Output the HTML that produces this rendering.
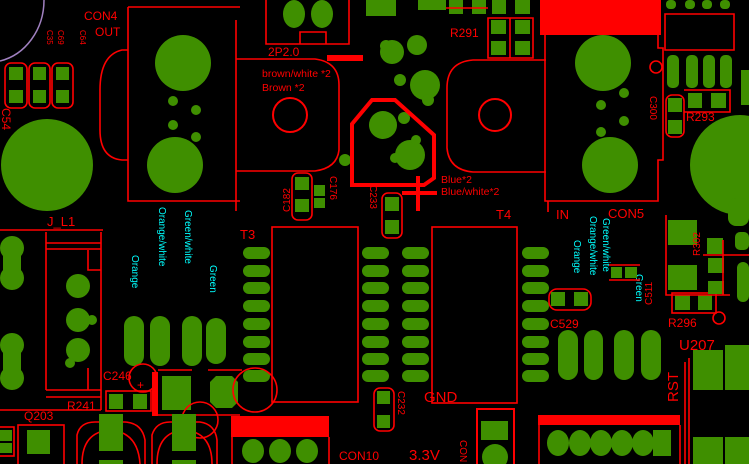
<!DOCTYPE html>
<html><head><meta charset="utf-8"><style>
html,body{margin:0;padding:0;background:#000;width:749px;height:464px;overflow:hidden}
svg{display:block}
text{font-family:"Liberation Sans",sans-serif}
.r{fill:#ff0000;font-size:12px}
.c{fill:#00ffff;font-size:10px}
.o{fill:none;stroke:#ff0000;stroke-width:1.6}
.g{fill:#3f8f00}
</style></head><body>
<svg width="749" height="464" viewBox="0 0 749 464" xmlns="http://www.w3.org/2000/svg">
<!-- purple arc -->
<path d="M44,0 C44,30 25,55 0,61" fill="none" stroke="#a080c0" stroke-width="1.5"/>
<text class="r" x="84" y="20">CON4</text><text class="r" x="95" y="36">OUT</text>
<g class="r" style="font-size:8px"><text transform="translate(47,30) rotate(90)">C35</text><text transform="translate(58,30) rotate(90)">C69</text><text transform="translate(80,30) rotate(90)">C64</text></g>
<!-- caps top-left -->
<rect class="o" x="5" y="63" width="22" height="45" rx="6"/><rect class="o" x="29" y="63" width="21" height="45" rx="6"/><rect class="o" x="52" y="63" width="21" height="45" rx="6"/>
<g class="g"><rect x="9" y="67" width="14" height="13"/><rect x="33" y="67" width="13" height="13"/><rect x="56" y="67" width="13" height="13"/>
<rect x="9" y="90" width="14" height="13"/><rect x="33" y="90" width="13" height="13"/><rect x="56" y="90" width="13" height="13"/></g>
<text class="r" transform="translate(2,108) rotate(90)">C54</text>
<circle class="g" cx="47" cy="165" r="46"/>
<!-- CON4 -->
<path class="o" d="M128,48 V201 H240 M128,7 H240 M128,7 V48 M128,50 H122 Q100,55 100,90 V130 Q100,158 122,160 H128"/>
<line class="o" x1="236" y1="20" x2="236" y2="211"/>
<g class="g"><circle cx="183" cy="63" r="28"/><circle cx="175" cy="165" r="28"/><circle cx="173" cy="101" r="5"/><circle cx="196" cy="110" r="5"/><circle cx="173" cy="125" r="5"/><circle cx="196" cy="137" r="5"/></g>
<!-- 2P2.0 -->
<path class="o" d="M266,0 V44 H349 V0 M300,44 V32 H326 V44"/>
<g class="g"><ellipse cx="294" cy="14" rx="11" ry="14"/><ellipse cx="322" cy="14" rx="11" ry="14"/></g>
<text class="r" x="268" y="56">2P2.0</text>
<rect x="327" y="55" width="36" height="6" fill="#f00"/>
<path class="o" d="M236,59 H315 Q339,62 339,85 V150 Q337,168 315,171 H236"/>
<circle cx="290" cy="115" r="17" fill="none" stroke="#f00" stroke-width="2"/>
<text class="r" style="font-size:10.5px" x="262" y="77">brown/white *2</text><text class="r" style="font-size:10.5px" x="262" y="91">Brown *2</text>
<!-- C182 C176 -->
<rect class="o" x="292" y="173" width="20" height="47" rx="6"/>
<g class="g"><rect x="295" y="177" width="14" height="13"/><rect x="295" y="199" width="14" height="13"/><rect x="314" y="185" width="11" height="11"/><rect x="314" y="198" width="11" height="10"/></g>
<g class="r" style="font-size:10px"><text transform="translate(290,212) rotate(-90)">C182</text><text transform="translate(330,176) rotate(90)">C176</text><text transform="translate(370,185) rotate(90)">C233</text></g>
<text class="r" style="font-size:13px" x="47" y="226">J_L1</text><line class="o" x1="0" y1="230" x2="103" y2="230"/>
<!-- top right -->
<g class="g"><rect x="418" y="0" width="28" height="10"/><rect x="366" y="0" width="30" height="16"/>
<rect x="449" y="0" width="14" height="14"/><rect x="472" y="0" width="14" height="14"/><rect x="492" y="0" width="14" height="14"/><rect x="515" y="0" width="15" height="14"/>
<rect x="491" y="20" width="15" height="14"/><rect x="515" y="20" width="15" height="14"/><rect x="491" y="41" width="15" height="14"/><rect x="515" y="41" width="15" height="14"/></g>
<path class="o" d="M488,18 H533 V58 H488 Z M510,18 V58 M446,8 H488"/>
<text class="r" x="450" y="37">R291</text>
<rect x="540" y="0" width="121" height="35" fill="#f00"/>
<g class="g"><circle cx="392" cy="52" r="12"/><circle cx="386" cy="46" r="6"/><circle cx="417" cy="45" r="10"/><circle cx="425" cy="85" r="15"/><circle cx="400" cy="80" r="6"/><circle cx="428" cy="100" r="6"/>
<circle cx="383" cy="125" r="14"/><circle cx="404" cy="118" r="6"/><circle cx="410" cy="155" r="15"/><circle cx="395" cy="158" r="5"/><circle cx="416" cy="140" r="5"/><circle cx="345" cy="160" r="6"/></g>
<polygon points="372,100 395,100 434,135 434,178 424,185 352,185 352,124" fill="none" stroke="#f00" stroke-width="4"/>
<path d="M402,193 H437 M418,176 V211" stroke="#f00" stroke-width="4"/>
<text class="r" style="font-size:10.5px" x="441" y="183">Blue*2</text><text class="r" style="font-size:10.5px" x="441" y="195">Blue/white*2</text>
<path class="o" d="M546,60 H473 Q447,62 447,88 V148 Q449,170 473,172 H546"/>
<circle cx="495" cy="115" r="16" fill="none" stroke="#f00" stroke-width="2"/>
<path class="o" d="M545,35 V201 H658 V160 H663 V48 H658 V35 M548,201 V212"/>
<g class="g"><circle cx="603" cy="63" r="28"/><circle cx="610" cy="165" r="28"/><circle cx="624" cy="93" r="5"/><circle cx="601" cy="105" r="5"/><circle cx="624" cy="121" r="5"/><circle cx="601" cy="132" r="5"/></g>
<circle cx="656" cy="67" r="6" fill="none" stroke="#f00" stroke-width="1.6"/>
<text class="r" style="font-size:10px" transform="translate(650,96) rotate(90)">C300</text>
<path class="o" d="M665,14 H734 V50 H665 Z"/>
<g class="g"><rect x="666" y="0" width="10" height="9" rx="4"/><rect x="685" y="0" width="10" height="9" rx="4"/><rect x="702" y="0" width="10" height="9" rx="4"/><rect x="720" y="0" width="10" height="9" rx="4"/>
<rect x="667" y="55" width="12" height="33" rx="5"/><rect x="686" y="55" width="12" height="33" rx="5"/><rect x="703" y="55" width="12" height="33" rx="5"/><rect x="720" y="55" width="12" height="33" rx="5"/>
<rect x="688" y="93" width="14" height="15"/><rect x="711" y="93" width="15" height="15"/><rect x="668" y="98" width="14" height="14"/><rect x="668" y="120" width="14" height="14"/>
<rect x="741" y="70" width="8" height="35"/><circle cx="740" cy="165" r="50"/></g>
<rect class="o" x="666" y="95" width="18" height="42" rx="6"/><path class="o" d="M684,90 H730 V112 H684"/>
<text class="r" x="686" y="121">R293</text>
<text class="r" style="font-size:13px" x="496" y="219">T4</text><text class="r" style="font-size:13px" x="556" y="219">IN</text><text class="r" style="font-size:13px" x="608" y="218">CON5</text>
<text class="r" style="font-size:13px" x="240" y="239">T3</text>
<!-- J_L1 connector -->
<path class="o" d="M46,232 V390 M101,232 V410 M46,243 H101 M46,249 H101 M88,250 V270 H101 M88,368 V390 H101 M46,390 H101 M46,397 H101"/>
<line class="o" x1="0" y1="410" x2="101" y2="410"/>
<g class="g"><circle cx="12" cy="248" r="12"/><circle cx="12" cy="278" r="12"/><rect x="3" y="248" width="18" height="30"/><circle cx="12" cy="345" r="12"/><circle cx="12" cy="378" r="12"/><rect x="3" y="345" width="18" height="33"/>
<circle cx="78" cy="286" r="12"/><circle cx="78" cy="320" r="12"/><circle cx="92" cy="320" r="5"/><circle cx="78" cy="350" r="12"/><circle cx="70" cy="363" r="5"/></g>
<g class="c"><text transform="translate(132,255) rotate(90)">Orange</text><text transform="translate(159,207) rotate(90)">Orange/white</text><text transform="translate(185,210) rotate(90)">Green/white</text><text transform="translate(210,265) rotate(90)">Green</text>
<text transform="translate(574,240) rotate(90)">Orange</text><text transform="translate(590,216) rotate(90)">Orange/white</text><text transform="translate(603,218) rotate(90)">Green/white</text><text transform="translate(636,274) rotate(90)">Green</text></g>
<g class="g"><rect x="124" y="316" width="20" height="50" rx="10"/><rect x="150" y="316" width="20" height="50" rx="10"/><rect x="182" y="316" width="20" height="50" rx="10"/><rect x="206" y="318" width="20" height="46" rx="10"/>
<rect x="558" y="330" width="20" height="50" rx="10"/><rect x="584" y="330" width="19" height="50" rx="10"/><rect x="614" y="330" width="20" height="50" rx="10"/><rect x="641" y="330" width="20" height="50" rx="10"/></g>
<!-- T3/T4 -->
<rect class="o" x="272" y="227" width="86" height="175"/><rect class="o" x="432" y="227" width="85" height="176"/>
<g class="g">
<rect x="243" y="247" width="27" height="12" rx="6"/><rect x="243" y="265" width="27" height="12" rx="6"/><rect x="243" y="282" width="27" height="12" rx="6"/><rect x="243" y="300" width="27" height="12" rx="6"/><rect x="243" y="318" width="27" height="12" rx="6"/><rect x="243" y="336" width="27" height="12" rx="6"/><rect x="243" y="353" width="27" height="12" rx="6"/><rect x="243" y="370" width="27" height="12" rx="6"/>
<rect x="362" y="247" width="27" height="12" rx="6"/><rect x="362" y="265" width="27" height="12" rx="6"/><rect x="362" y="282" width="27" height="12" rx="6"/><rect x="362" y="300" width="27" height="12" rx="6"/><rect x="362" y="318" width="27" height="12" rx="6"/><rect x="362" y="336" width="27" height="12" rx="6"/><rect x="362" y="353" width="27" height="12" rx="6"/><rect x="362" y="370" width="27" height="12" rx="6"/>
<rect x="402" y="247" width="27" height="12" rx="6"/><rect x="402" y="265" width="27" height="12" rx="6"/><rect x="402" y="282" width="27" height="12" rx="6"/><rect x="402" y="300" width="27" height="12" rx="6"/><rect x="402" y="318" width="27" height="12" rx="6"/><rect x="402" y="336" width="27" height="12" rx="6"/><rect x="402" y="353" width="27" height="12" rx="6"/><rect x="402" y="370" width="27" height="12" rx="6"/>
<rect x="522" y="247" width="27" height="12" rx="6"/><rect x="522" y="265" width="27" height="12" rx="6"/><rect x="522" y="282" width="27" height="12" rx="6"/><rect x="522" y="300" width="27" height="12" rx="6"/><rect x="522" y="318" width="27" height="12" rx="6"/><rect x="522" y="336" width="27" height="12" rx="6"/><rect x="522" y="353" width="27" height="12" rx="6"/><rect x="522" y="370" width="27" height="12" rx="6"/>
<rect x="385" y="197" width="14" height="14"/><rect x="385" y="220" width="14" height="14"/>
</g>
<rect class="o" x="382" y="193" width="20" height="45" rx="6"/>
<!-- C246 area -->
<text class="r" x="103" y="380">C246</text>
<circle cx="143" cy="378" r="14" fill="none" stroke="#f00" stroke-width="1.6"/><text class="r" x="137" y="389">+</text>
<path d="M152,372 H158 V416 H152 Z" fill="#f00"/><path class="o" d="M158,370 H192 M208,370 H242 M158,415 H240"/>
<rect class="g" x="162" y="376" width="29" height="34"/>
<polygon class="g" points="216,376 232,376 238,382 238,402 232,408 216,408 210,402 210,382"/>
<circle cx="255" cy="390" r="22" fill="none" stroke="#f00" stroke-width="1.6"/>
<circle cx="200" cy="420" r="18" fill="none" stroke="#f00" stroke-width="1.6"/>
<rect class="o" x="106" y="391" width="45" height="20"/>
<rect class="g" x="109" y="394" width="14" height="15"/><rect class="g" x="133" y="394" width="14" height="15"/>
<text class="r" x="67" y="410">R241</text>
<text class="r" x="24" y="420">Q203</text>
<rect class="o" x="18" y="425" width="46" height="45"/><rect class="g" x="27" y="430" width="23" height="24"/>
<rect class="g" x="0" y="430" width="12" height="11"/><rect class="g" x="0" y="443" width="12" height="10"/><rect class="o" x="-2" y="427" width="16" height="29"/>
<path class="o" d="M77,464 V435 Q80,422 95,422 H125 Q142,423 145,440 V464 M152,464 V435 Q156,422 170,422 H200 Q215,424 217,440 V464"/>
<path class="o" d="M82,464 Q82,432 110,430 Q138,432 140,464 M157,464 Q157,432 184,430 Q212,432 212,464"/>
<g class="g"><rect x="99" y="414" width="24" height="37"/><rect x="172" y="414" width="24" height="37"/><rect x="99" y="460" width="24" height="4"/><rect x="172" y="460" width="24" height="4"/></g>
<rect x="231" y="416" width="98" height="21" fill="#f00"/><path class="o" d="M232,437 V464 M329,437 V464"/>
<g class="g"><ellipse cx="253" cy="451" rx="11" ry="12"/><ellipse cx="280" cy="451" rx="11" ry="12"/><ellipse cx="307" cy="451" rx="11" ry="12"/></g>
<text class="r" x="339" y="460">CON10</text>
<!-- bottom right -->
<rect class="o" x="374" y="388" width="20" height="43" rx="6"/>
<rect class="g" x="377" y="391" width="13" height="13"/><rect class="g" x="377" y="415" width="13" height="13"/>
<text class="r" style="font-size:10px" transform="translate(398,391) rotate(90)">C232</text>
<text class="r" style="font-size:15px" x="424" y="402">GND</text><text class="r" style="font-size:15px" x="409" y="460">3.3V</text>
<text class="r" style="font-size:10px" transform="translate(460,440) rotate(90)">CON</text>
<rect x="477" y="409" width="37" height="60" fill="none" stroke="#f00" stroke-width="2"/>
<rect class="g" x="481" y="421" width="27" height="19"/><circle class="g" cx="495" cy="457" r="13"/>
<rect x="538" y="415" width="142" height="10" fill="#f00"/><path class="o" d="M539,425 V464 M680,425 V464"/>
<g class="g"><ellipse cx="558" cy="443" rx="11" ry="13"/><ellipse cx="580" cy="443" rx="11" ry="13"/><ellipse cx="601" cy="443" rx="11" ry="13"/><ellipse cx="622" cy="443" rx="11" ry="13"/><ellipse cx="643" cy="443" rx="11" ry="13"/><rect x="653" y="430" width="18" height="26"/></g>
<rect class="o" x="549" y="289" width="42" height="21" rx="8"/>
<rect class="g" x="551" y="292" width="14" height="14"/><rect class="g" x="574" y="292" width="14" height="14"/>
<text class="r" x="550" y="328">C529</text>
<path class="o" d="M609,265 H640 M609,280 H640"/><rect class="g" x="611" y="267" width="11" height="11"/><rect class="g" x="625" y="267" width="12" height="11"/>
<text class="r" style="font-size:10px" transform="translate(652,305) rotate(-90)">C511</text>
<text class="r" x="668" y="327">R296</text>
<rect class="o" x="672" y="293" width="44" height="20"/>
<rect class="g" x="675" y="295" width="15" height="15"/><rect class="g" x="698" y="295" width="14" height="15"/>
<circle cx="719" cy="318" r="6" fill="none" stroke="#f00" stroke-width="1.6"/>
<g class="g"><rect x="668" y="220" width="29" height="25"/><rect x="668" y="265" width="29" height="25"/><rect x="707" y="238" width="16" height="16"/><rect x="708" y="258" width="16" height="15"/><rect x="708" y="281" width="16" height="13"/>
<rect x="735" y="232" width="14" height="18" rx="5"/><rect x="737" y="262" width="12" height="40" rx="6"/><rect x="728" y="198" width="21" height="28" rx="8"/>
<rect x="693" y="350" width="30" height="40"/><rect x="725" y="345" width="24" height="45"/><rect x="693" y="437" width="30" height="27"/><rect x="725" y="437" width="24" height="27"/></g>
<path class="o" d="M666,215 V295 H730 M703,255 H749 M723,240 V295"/>
<text class="r" style="font-size:10px" transform="translate(700,256) rotate(-90)">R302</text>
<text class="r" style="font-size:15px" x="679" y="350">U207</text>
<text class="r" style="font-size:15px" transform="translate(678,402) rotate(-90)">RST</text>
<path class="o" d="M685,362 V464 M689,358 V464"/>
</svg>
</body></html>
